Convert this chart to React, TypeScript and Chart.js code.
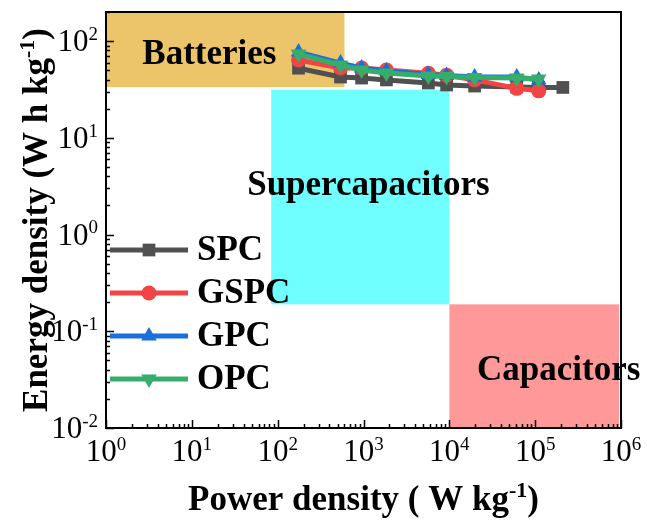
import React, { useEffect, useRef } from 'react';
import { Chart, registerables } from 'chart.js';

Chart.register(...registerables);

// ---------- data ----------
const powerDensity = [175, 540, 950, 1850, 5700, 9300, 19700, 61000, 110000];
const spcPower = [175, 540, 950, 1850, 5700, 9300, 19700, 61000, 110000, 210000];
const spcEnergy = [52.5, 42.5, 41.5, 39.7, 36.9, 35.2, 34.3, 33.5, 33.2, 33.2];
const gspcEnergy = [63.7, 52.7, 52.7, 50.2, 46.5, 44.5, 39.7, 32.5, 30.6];
const gpcEnergy = [77, 59.3, 52.7, 49.1, 45.2, 44.1, 42.5, 42.5, 39.7];
const opcEnergy = [73.4, 56.6, 50.2, 46.8, 43.6, 43.1, 42.0, 41.6, 40.6];
const seriesNames = ['SPC', 'GSPC', 'GPC', 'OPC'];

const xTickExponents = [0, 1, 2, 3, 4, 5, 6];
const yTickExponents = [-2, -1, 0, 1, 2];

const regionNames = ['Batteries', 'Supercapacitors', 'Capacitors'];
const regionPower = [[1, 600], [84, 10000], [10000, 950000]];
const regionEnergy = [[33.5, 200], [0.19, 31.5], [0.0102, 0.19]];

// ---------- styles ----------
const FONT = '"Liberation Serif", "Times New Roman", serif';
const seriesColors = ['#505050', '#F24444', '#1A6FDF', '#37AD6B'];
const seriesMarkers = ['rect', 'circle', 'triangle', 'triangle'];
const seriesRotation = [0, 0, 0, 180];
const seriesRadius = [9, 7.5, 9, 9];
const regionColors = ['#ECC56B', '#6FFFFF', '#FF9999'];
const regionLabelAt = [[16, 72], [1140, 3.2], [188000, 0.0387]];

type Part = { text: string; sup?: boolean };

function drawRich(ctx: CanvasRenderingContext2D, parts: Part[], x: number, y: number,
  align: 'left' | 'center' | 'right', size: number, bold: boolean) {
  const base = `${bold ? 'bold ' : ''}${size}px ${FONT}`;
  const supSize = Math.round(size * 0.62);
  const supFont = `${bold ? 'bold ' : ''}${supSize}px ${FONT}`;
  let total = 0;
  const widths = parts.map((p) => {
    ctx.font = p.sup ? supFont : base;
    const w = ctx.measureText(p.text).width;
    total += w;
    return w;
  });
  let cx = align === 'left' ? x : align === 'center' ? x - total / 2 : x - total;
  ctx.textAlign = 'left';
  ctx.textBaseline = 'alphabetic';
  parts.forEach((p, i) => {
    ctx.font = p.sup ? supFont : base;
    ctx.fillText(p.text, cx, p.sup ? y - size * 0.36 : y);
    cx += widths[i];
  });
}

function drawMarker(ctx: CanvasRenderingContext2D, style: string, x: number, y: number, r: number, rot: number) {
  ctx.beginPath();
  if (style === 'rect') {
    const s = r * Math.SQRT1_2;
    ctx.rect(x - s, y - s, 2 * s, 2 * s);
  } else if (style === 'circle') {
    ctx.arc(x, y, r, 0, Math.PI * 2);
  } else {
    let a = (rot * Math.PI) / 180;
    ctx.moveTo(x + Math.sin(a) * r, y - Math.cos(a) * r);
    a += (2 * Math.PI) / 3;
    ctx.lineTo(x + Math.sin(a) * r, y - Math.cos(a) * r);
    a += (2 * Math.PI) / 3;
    ctx.lineTo(x + Math.sin(a) * r, y - Math.cos(a) * r);
    ctx.closePath();
  }
  ctx.fill();
}

const decorPlugin = {
  id: 'decor',
  beforeDatasetsDraw(chart: any) {
    const { ctx, scales } = chart;
    const xs = scales.x, ys = scales.y;
    ctx.save();
    regionNames.forEach((_, i) => {
      const x0 = xs.getPixelForValue(regionPower[i][0]);
      const x1 = xs.getPixelForValue(regionPower[i][1]);
      const y0 = ys.getPixelForValue(regionEnergy[i][1]);
      const y1 = ys.getPixelForValue(regionEnergy[i][0]);
      ctx.fillStyle = regionColors[i];
      ctx.fillRect(x0, y0, x1 - x0, y1 - y0);
    });
    ctx.fillStyle = '#000';
    ctx.font = `bold 35px ${FONT}`;
    ctx.textAlign = 'center';
    ctx.textBaseline = 'middle';
    regionNames.forEach((name, i) => {
      ctx.fillText(name, xs.getPixelForValue(regionLabelAt[i][0]), ys.getPixelForValue(regionLabelAt[i][1]));
    });
    ctx.restore();
  },
  afterDatasetsDraw(chart: any) {
    const { ctx, scales, chartArea } = chart;
    const xs = scales.x, ys = scales.y;
    const { left, right, top, bottom } = chartArea;
    ctx.save();
    // frame
    ctx.strokeStyle = '#000';
    ctx.lineWidth = 2;
    ctx.strokeRect(left, top, right - left, bottom - top);
    // ticks
    ctx.lineWidth = 1.5;
    ctx.beginPath();
    xTickExponents.forEach((e) => {
      for (let m = 1; m <= 9; m++) {
        const v = m * Math.pow(10, e);
        if (v < xs.min || v > xs.max) continue;
        const px = Math.round(xs.getPixelForValue(v)) + 0.5;
        const len = m === 1 ? 8 : 4;
        ctx.moveTo(px, bottom);
        ctx.lineTo(px, bottom - len);
      }
    });
    yTickExponents.forEach((e) => {
      for (let m = 1; m <= 9; m++) {
        const v = m * Math.pow(10, e);
        if (v < ys.min || v > ys.max) continue;
        const py = Math.round(ys.getPixelForValue(v)) + 0.5;
        const len = m === 1 ? 8 : 4;
        ctx.moveTo(left, py);
        ctx.lineTo(left + len, py);
      }
    });
    ctx.stroke();
    // tick labels
    ctx.fillStyle = '#000';
    xTickExponents.forEach((e) => {
      const px = xs.getPixelForValue(Math.pow(10, e));
      drawRich(ctx, [{ text: '10' }, { text: String(e), sup: true }], px, bottom + 33, 'center', 31, false);
    });
    yTickExponents.forEach((e) => {
      const py = ys.getPixelForValue(Math.pow(10, e));
      drawRich(ctx, [{ text: '10' }, { text: String(e), sup: true }], left - 8, py + 10, 'right', 31, false);
    });
    // axis titles
    drawRich(ctx, [{ text: 'Power density ( W kg' }, { text: '-1', sup: true }, { text: ')' }],
      (left + right) / 2, bottom + 82, 'center', 35, true);
    ctx.save();
    ctx.translate(47, (top + bottom) / 2);
    ctx.rotate(-Math.PI / 2);
    drawRich(ctx, [{ text: 'Energy density (W h kg' }, { text: '-1', sup: true }, { text: ')' }],
      0, 0, 'center', 35, true);
    ctx.restore();
    // legend
    seriesNames.forEach((name, i) => {
      const y = 250 + i * 43;
      ctx.strokeStyle = seriesColors[i];
      ctx.lineWidth = 5;
      ctx.beginPath();
      ctx.moveTo(110, y);
      ctx.lineTo(188, y);
      ctx.stroke();
      ctx.fillStyle = seriesColors[i];
      drawMarker(ctx, seriesMarkers[i], 149, y, seriesRadius[i], seriesRotation[i]);
      ctx.fillStyle = '#000';
      ctx.font = `bold 35px ${FONT}`;
      ctx.textAlign = 'left';
      ctx.textBaseline = 'middle';
      ctx.fillText(name, 197, y + 1);
    });
    ctx.restore();
  },
};

export default function App() {
  const ref = useRef<HTMLCanvasElement>(null);
  useEffect(() => {
    if (!ref.current) return;
    const energies = [spcEnergy, gspcEnergy, gpcEnergy, opcEnergy];
    const powers = [spcPower, powerDensity, powerDensity, powerDensity];
    const chart = new Chart(ref.current, {
      type: 'line',
      data: {
        datasets: seriesNames.map((name, i) => ({
          label: name,
          data: powers[i].map((x, j) => ({ x, y: energies[i][j] })).filter((p) => p.y !== undefined),
          borderColor: seriesColors[i],
          backgroundColor: seriesColors[i],
          borderWidth: 5,
          pointStyle: seriesMarkers[i] as any,
          pointRotation: seriesRotation[i],
          pointRadius: seriesRadius[i],
          pointBorderWidth: 0,
          pointBackgroundColor: seriesColors[i],
          order: 3 - i,
          tension: 0,
        })),
      },
      options: {
        responsive: false,
        animation: false,
        devicePixelRatio: 1,
        layout: { padding: { left: 106, right: 26, top: 12, bottom: 94 } },
        plugins: { legend: { display: false }, tooltip: { enabled: false } },
        scales: {
          x: { type: 'logarithmic', min: 1, max: 1e6, display: false },
          y: { type: 'logarithmic', min: 0.01, max: 200, display: false },
        },
      },
      plugins: [decorPlugin],
    });
    return () => chart.destroy();
  }, []);
  return (
    <div style={{ position: 'fixed', left: 0, top: 0, width: 647, height: 522, background: '#fff' }}>
      <canvas ref={ref} width={647} height={522} style={{ width: 647, height: 522 }} />
    </div>
  );
}
